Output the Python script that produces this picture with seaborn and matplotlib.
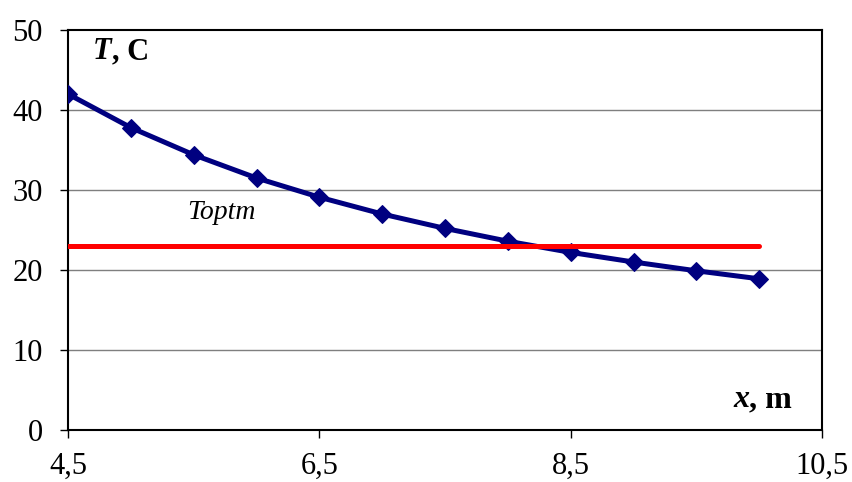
import matplotlib
matplotlib.use("Agg")
import matplotlib.pyplot as plt
import seaborn as sns
import pandas as pd

# Temperature along the distance x
x_m = [4.5, 5.0, 5.5, 6.0, 6.5, 7.0, 7.5, 8.0, 8.5, 9.0, 9.5, 10.0]
temp_c = [42.0, 37.8, 34.4, 31.5, 29.1, 27.0, 25.2, 23.6, 22.2, 21.0, 19.9, 18.9]
t_optm = 23.0
x_ticks = [4.5, 6.5, 8.5, 10.5]
x_tick_labels = ["4,5", "6,5", "8,5", "10,5"]
y_ticks = [0, 10, 20, 30, 40, 50]

sns.set_theme(style="white")
plt.rcParams["font.family"] = ["Liberation Serif", "DejaVu Serif"]
plt.rcParams["text.color"] = "black"

df = pd.DataFrame({"x": x_m, "T": temp_c})
opt = pd.DataFrame({"x": [x_m[0], x_m[-1]], "T": [t_optm, t_optm]})

fig, ax = plt.subplots(figsize=(8.52, 4.82), dpi=100)
fig.subplots_adjust(left=68 / 852, right=822 / 852, top=1 - 30 / 482, bottom=1 - 430 / 482)

for y in y_ticks[1:-1]:
    ax.axhline(y, color="#7f7f7f", lw=1.0, zorder=0)

sns.lineplot(data=df, x="x", y="T", ax=ax, color="#000080", lw=3.6,
             marker="D", markersize=9.5, markeredgecolor="#000080", zorder=3)
sns.lineplot(data=opt, x="x", y="T", ax=ax, color="#ff0000", lw=3.6,
             solid_capstyle="round", zorder=4)

ax.set_xlim(4.5, 10.5)
ax.set_ylim(0, 50)
ax.set_xticks(x_ticks)
ax.set_xticklabels(x_tick_labels)
ax.set_yticks(y_ticks)
ax.set_xlabel("")
ax.set_ylabel("")
ax.tick_params(axis="both", labelsize=22, colors="black", direction="out",
               length=6, width=1, bottom=True, left=True)
ax.tick_params(axis="y", pad=12)
ax.tick_params(axis="x", pad=10)
for s in ax.spines.values():
    s.set_visible(True)
    s.set_color("black")
    s.set_linewidth(1.5)

# Axis captions: italic bold variable, upright bold unit
t_lbl = ax.text(0.033, 0.982, "T", transform=ax.transAxes, fontsize=22,
                fontweight="bold", fontstyle="italic", ha="left", va="top",
                color="black")
ax.annotate(", C", xy=(1, 0), xycoords=t_lbl, fontsize=22, fontweight="bold",
            ha="left", va="bottom", color="black")
x_unit = ax.text(0.96, 0.04, ", m", transform=ax.transAxes, fontsize=23,
                 fontweight="bold", ha="right", va="bottom", color="black")
ax.annotate("x", xy=(0, 0), xycoords=x_unit, fontsize=23, fontweight="bold",
            fontstyle="italic", ha="right", va="bottom", color="black")

ax.text(5.45, 27.2, "Toptm", fontsize=20, fontstyle="italic", ha="left",
        va="center", color="black")

fig.savefig("out.png", dpi=100, facecolor="white")
